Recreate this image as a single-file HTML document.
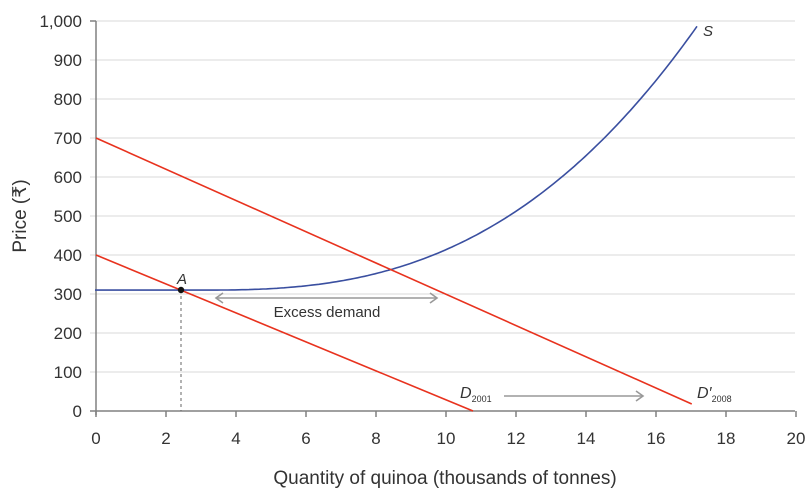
<!DOCTYPE html>
<html><head><meta charset="utf-8"><style>
body{margin:0;background:#fff;}
svg{display:block;font-family:"Liberation Sans","DejaVu Sans",sans-serif;}
</style></head><body>
<svg id="c" width="809" height="500" viewBox="0 0 809 500">
<g id="grid" stroke="#d9d9d9" stroke-width="1"></g>
<g id="axes" stroke="#808080" stroke-width="1.5" fill="none"></g>
<g id="labels" fill="#333" font-size="17"></g>
<line x1="181" y1="290" x2="181" y2="411" stroke="#666" stroke-width="1" stroke-dasharray="3,3"/>
<path id="sup" fill="none" stroke="#3a4fa0" stroke-width="1.6"/>
<line id="d1" stroke="#e8321e" stroke-width="1.6"/>
<line id="d2" stroke="#e8321e" stroke-width="1.6"/>
<circle cx="181" cy="290" r="3.2" fill="#111"/>
<g stroke="#999" stroke-width="1.6" fill="none">
<line x1="216" y1="298" x2="437" y2="298"/>
<polyline points="223,293 216,298 223,303"/>
<polyline points="430,293 437,298 430,303"/>
<line x1="504" y1="396" x2="643" y2="396"/>
<polyline points="636,391 643,396 636,401"/>
</g>
<text x="327" y="317" font-size="15" fill="#333" text-anchor="middle">Excess demand</text>
<text x="177" y="284" font-size="15" fill="#333" font-style="italic">A</text>
<text x="703" y="36" font-size="15" fill="#333" font-style="italic">S</text>
<text x="460" y="398" font-size="16" fill="#333" font-style="italic">D<tspan font-size="9" font-style="normal" dy="4">2001</tspan></text>
<text x="697" y="398" font-size="16" fill="#333" font-style="italic">D′<tspan font-size="9" font-style="normal" dy="4">2008</tspan></text>
<text x="445" y="484" font-size="19" fill="#333" text-anchor="middle">Quantity of quinoa (thousands of tonnes)</text>
<text transform="translate(26,216) rotate(-90)" font-size="19" fill="#333" text-anchor="middle">Price (₹)</text>
</svg>
<script>
var X=function(q){return 95+35*q},Y=function(p){return 411-0.39*p};
var ns="http://www.w3.org/2000/svg";
function el(g,t,a,txt){var e=document.createElementNS(ns,t);for(var k in a)e.setAttribute(k,a[k]);if(txt!==undefined)e.textContent=txt;document.getElementById(g).appendChild(e);return e;}
for(var p=100;p<=1000;p+=100){el("grid","line",{x1:90,x2:795,y1:Y(p),y2:Y(p)});}
el("axes","line",{x1:96,y1:21,x2:96,y2:415});
el("axes","line",{x1:90,y1:411,x2:795,y2:411});
el("axes","line",{x1:90,y1:21,x2:96,y2:21});
for(var q=0;q<=20;q+=2){el("axes","line",{x1:X(q)+1,x2:X(q)+1,y1:411,y2:417});el("labels","text",{x:X(q)+1,y:444,"text-anchor":"middle"},String(q));}
for(var p=0;p<=1000;p+=100){el("labels","text",{x:82,y:Y(p)+6,"text-anchor":"end"},p==1000?"1,000":String(p));}
var d="";for(var q=0;q<=17.2;q+=0.1){var pr=q<3?310:310+0.573*Math.pow(q-3,2.666);d+=(q==0?"M":"L")+X(q).toFixed(1)+","+Y(pr).toFixed(1);}
document.getElementById("sup").setAttribute("d",d);
var a=document.getElementById("d1");a.setAttribute("x1",X(0)+1);a.setAttribute("y1",Y(400));a.setAttribute("x2",X(10.8));a.setAttribute("y2",Y(0));
var b=document.getElementById("d2");b.setAttribute("x1",X(0)+1);b.setAttribute("y1",Y(700));b.setAttribute("x2",X(17.05));b.setAttribute("y2",Y(18));
</script>
</body></html>
